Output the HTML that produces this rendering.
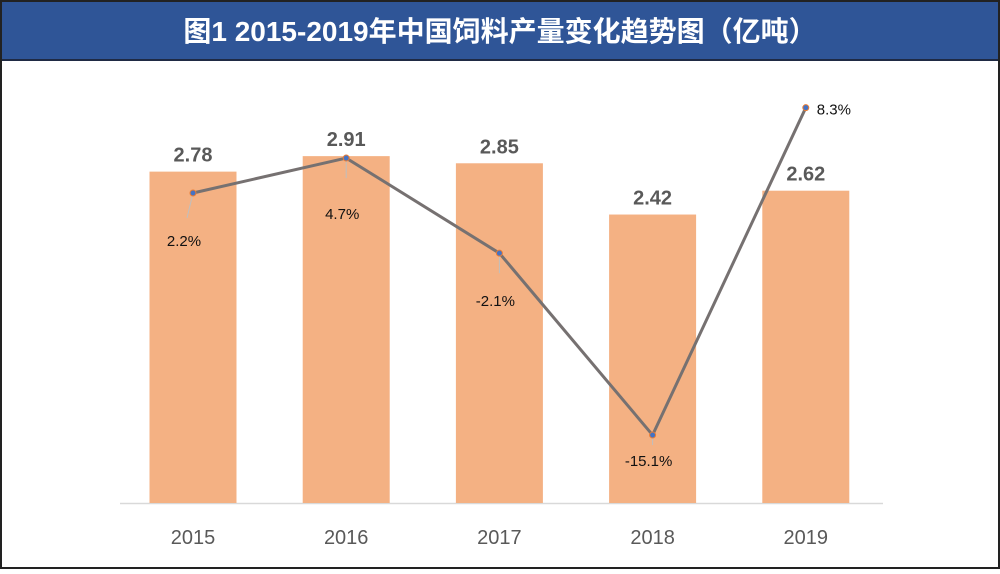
<!DOCTYPE html>
<html><head><meta charset="utf-8"><style>
body{margin:0;width:1000px;height:569px;overflow:hidden;background:#fff;font-family:"Liberation Sans","Noto Sans CJK SC",sans-serif}
</style></head><body>
<svg width="1000" height="569" id="svg" xmlns="http://www.w3.org/2000/svg">
<rect x="0" y="0" width="1000" height="60" fill="#2F5597"/>
<line x1="0" y1="60" x2="1000" y2="60" stroke="#1f2a44" stroke-width="2"/>
<text x="500" y="41" text-anchor="middle" fill="#fff" font-size="28" font-weight="bold" font-family="Liberation Sans,Noto Sans CJK SC,sans-serif">图1  2015-2019年中国饲料产量变化趋势图（亿吨）</text>
<rect x="1" y="1" width="998" height="567" fill="none" stroke="#222" stroke-width="2"/>
<g id="g"></g>
</svg>
<script>
const years=["2015","2016","2017","2018","2019"];
const output=[2.78,2.91,2.85,2.42,2.62];
const growth=[2.2,4.7,-2.1,-15.1,8.3];
const growthLabels=["2.2%","4.7%","-2.1%","-15.1%","8.3%"];
const NS="http://www.w3.org/2000/svg";
const g=document.getElementById('g');
const base=503;
const xC=i=>193+i*153.2;
const yBar=v=>base-v*119.2;
const yLine=v=>223.8-v*13.99;
function mk(t,a){const e=document.createElementNS(NS,t);for(const k in a)e.setAttribute(k,a[k]);g.appendChild(e);return e;}
const ax=mk('line',{x1:120,y1:base+0.5,x2:883,y2:base+0.5,stroke:'#d9d9d9','stroke-width':1.5});


years.forEach((y,i)=>{
  const r=mk('rect',{x:xC(i)-43.5,y:yBar(output[i]),width:87,height:base-yBar(output[i]),fill:'#F4B183'});
  
  
  const t=mk('text',{x:xC(i),y:yBar(output[i])-10,'text-anchor':'middle','font-size':20,'font-weight':'bold',fill:'#595959'});
  t.textContent=output[i].toFixed(2);
  
  
  const xl=mk('text',{x:xC(i),y:544,'text-anchor':'middle','font-size':20,fill:'#595959'});
  xl.textContent=y;
  
  
});
const pts=growth.map((v,i)=>xC(i)+','+yLine(v)).join(' ');
const pl=mk('polyline',{points:pts,fill:'none',stroke:'#767171','stroke-width':3});


growth.forEach((v,i)=>{
  const x=xC(i),y=yLine(v);
  const last=i===growth.length-1;
  if(!last){const l=mk('line',{x1:x,y1:y,x2:x-(i==0?6:0),y2:y+(i==3?10:i==0?25:20),stroke:'#bfbfbf','stroke-width':1});}
  const c=mk('circle',{cx:x,cy:y,r:3,fill:'#4472C4',stroke:'#ED7D31','stroke-width':1});
  
  
  const t=mk('text',{x:last?x+11:x+(i==0?-9:-4),y:last?y+7:y+(i==3?31:i==0?53:i==1?61:53),'text-anchor':last?'start':'middle','font-size':15,fill:'#111'});
  t.textContent=growthLabels[i];
  
  
});
</script>
</body></html>
